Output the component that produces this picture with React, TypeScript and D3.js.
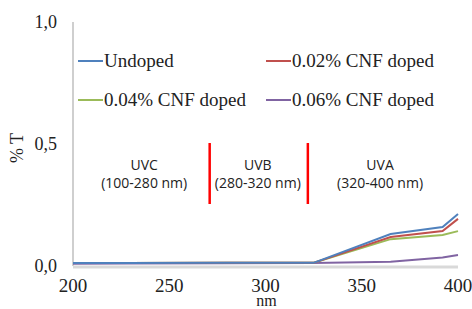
import * as d3 from 'd3';

const wavelengths = [200, 228, 280, 325, 365, 392, 400];
const undoped = [0.012, 0.012, 0.013, 0.013, 0.131, 0.16, 0.213];
const cnf002 = [0.012, 0.012, 0.013, 0.013, 0.119, 0.143, 0.193];
const cnf004 = [0.012, 0.012, 0.013, 0.013, 0.11, 0.127, 0.143];
const cnf006 = [0.009, 0.01, 0.011, 0.012, 0.017, 0.035, 0.045];

const seriesNames = ['Undoped', '0.02% CNF doped', '0.04% CNF doped', '0.06% CNF doped'];
const seriesColors = ['#4F81BD', '#C0504D', '#9BBB59', '#8064A2'];

const xTicks = [200, 250, 300, 350, 400];
const yTicks = [0, 0.5, 1];

// uv band dividers and labels, in data units
const bandLines = [271, 322];
const bandNames = ['UVC', 'UVB', 'UVA'];
const bandRanges = ['(100-280 nm)', '(280-320 nm)', '(320-400 nm)'];
const bandCenters = [237, 296, 359.5];

const width = 472;
const height = 309;
const margin = { left: 73, right: 14, top: 22, bottom: 43 };

const serif = "'Liberation Serif', 'Times New Roman', serif";
const sans = "'Open Sans', sans-serif";

export default function App() {
  const x = d3.scaleLinear().domain([200, 400]).range([margin.left, width - margin.right]);
  const y = d3.scaleLinear().domain([0, 1]).range([height - margin.bottom, margin.top]);

  const allSeries = [undoped, cnf002, cnf004, cnf006];
  const line = d3.line<number>()
    .x((d, i) => x(wavelengths[i]))
    .y(d => y(d));

  const legendX = [78, 266];
  const legendY = [61, 100];

  return (
    <div style={{ position: 'absolute', left: 0, top: 0, background: '#fff' }}>
      <svg width={width} height={height} style={{ display: 'block' }}>
        {/* axes */}
        <line x1={x(200)} x2={x(200)} y1={y(1)} y2={y(0)} stroke="#BFBFBF" strokeWidth={1.5} />
        <line x1={x(200)} x2={x(400)} y1={y(0) + 1} y2={y(0) + 1} stroke="#D9D9D9" strokeWidth={3} />

        {yTicks.map(t => (
          <text key={t} x={57} y={y(t) + 6} textAnchor="end" fontSize={18} fill="#222"
            style={{ fontFamily: serif }}>
            {d3.format('.1f')(t).replace('.', ',')}
          </text>
        ))}
        {xTicks.map(t => (
          <text key={t} x={x(t)} y={y(0) + 26} textAnchor="middle" fontSize={19} fill="#222"
            style={{ fontFamily: serif }}>
            {t}
          </text>
        ))}
        <text x={(x(200) + x(400)) / 2 + 1} y={y(0) + 40} textAnchor="middle" fontSize={16} fill="#222"
          style={{ fontFamily: serif }}>nm</text>
        <text transform={`translate(23, ${y(0.5) + 4}) rotate(-90)`} textAnchor="middle" fontSize={18} fill="#222"
          style={{ fontFamily: serif }}>% T</text>

        {/* band annotations */}
        {bandLines.map(b => (
          <line key={b} x1={x(b)} x2={x(b)} y1={y(0.504)} y2={y(0.254)} stroke="#FF0000" strokeWidth={2.5} />
        ))}
        {bandNames.map((name, i) => (
          <g key={name}>
            <text x={x(bandCenters[i])} y={y(0.414) + 5} textAnchor="middle" fontSize={14} fill="#222"
              style={{ fontFamily: sans }}>{name}</text>
            <text x={x(bandCenters[i])} y={y(0.34) + 5} textAnchor="middle" fontSize={14} fill="#222"
              style={{ fontFamily: sans }}>{bandRanges[i]}</text>
          </g>
        ))}

        {/* series */}
        {[3, 2, 1, 0].map(k => (
          <path key={k} d={line(allSeries[k]) || ''} fill="none" stroke={seriesColors[k]} strokeWidth={2} />
        ))}

        {/* legend */}
        {seriesNames.map((name, i) => {
          const lx = legendX[i % 2];
          const ly = legendY[Math.floor(i / 2)];
          return (
            <g key={name}>
              <line x1={lx} x2={lx + 25} y1={ly} y2={ly} stroke={seriesColors[i]} strokeWidth={2} />
              <text x={lx + 26} y={ly + 6} fontSize={19} fill="#222" style={{ fontFamily: serif }}>{name}</text>
            </g>
          );
        })}
      </svg>
    </div>
  );
}
